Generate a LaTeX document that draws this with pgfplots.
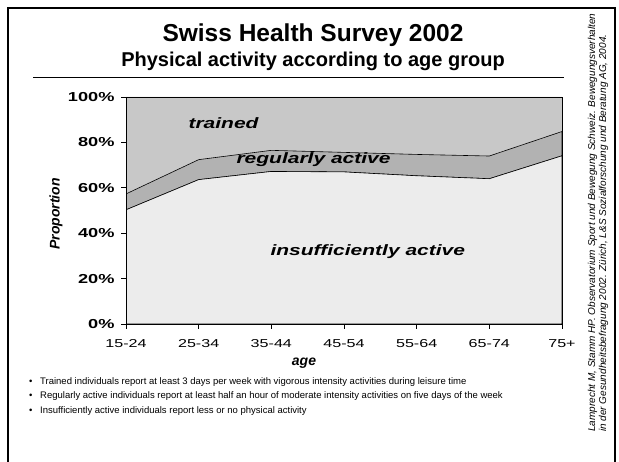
\documentclass[border=0pt]{standalone}
\usepackage{fontspec}
\setmainfont{Liberation Sans}
\newfontfamily\chartfont[FakeStretch=1.4]{Liberation Sans}
\usepackage{pgfplots}
\pgfplotsset{compat=1.18}

\definecolor{trainedgray}{RGB}{200,200,200}
\definecolor{regulargray}{RGB}{178,178,178}
\definecolor{insuffgray}{RGB}{236,236,236}

\begin{document}
\begin{tikzpicture}[x=1pt,y=1pt]
\useasboundingbox (0,0) rectangle (619,461);
% frame and header
\draw[line width=2.6pt] (8,-10) -- (8,453) -- (615,453) -- (615,-10);
\node[anchor=base, font=\bfseries\fontsize{24.5}{27}\selectfont] at (313,419) {Swiss Health Survey 2002};
\node[anchor=base, font=\bfseries\fontsize{20}{23}\selectfont] at (313,394) {Physical activity according to age group};
\draw[line width=0.8pt] (33,384) -- (564,384);

\begin{axis}[
    at={(126pt,137pt)}, anchor=south west,
    scale only axis,
    width=436pt, height=227pt,
    xmin=0, xmax=6, ymin=0, ymax=100,
    xtick={0,...,6},
    xticklabels={15-24,25-34,35-44,45-54,55-64,65-74,75+},
    ytick={0,20,...,100},
    yticklabels={0\%,20\%,40\%,60\%,80\%,100\%},
    tick align=outside, tick pos=left,
    major tick length=5pt,
    tick style={black, line width=0.6pt},
    axis line style={line width=0.7pt},
    xticklabel style={font=\chartfont\fontsize{11.5}{13}\selectfont, yshift=-7pt},
    yticklabel style={font=\chartfont\bfseries\fontsize{13}{15}\selectfont, xshift=-3pt},
    stack plots=y,
    axis on top,
]
% insufficiently active
\addplot[fill=insuffgray, draw=black, line width=0.6pt] coordinates {
    (0,50.3) (1,63.6) (2,67.2) (3,67.0) (4,65.3) (5,64.0) (6,74.1)
} \closedcycle;
% regularly active
\addplot[fill=regulargray, draw=black, line width=0.6pt] coordinates {
    (0,7.0) (1,8.8) (2,9.3) (3,8.6) (4,9.4) (5,10.0) (6,10.7)
} \closedcycle;
% trained
\addplot[fill=trainedgray, draw=none] coordinates {
    (0,42.7) (1,27.6) (2,23.5) (3,24.4) (4,25.3) (5,26.0) (6,15.2)
} \closedcycle;
\end{axis}

% labels inside the chart
\node[anchor=base west, font=\chartfont\bfseries\itshape\fontsize{15}{17}\selectfont] at (185,332) {trained};
\node[anchor=base west, font=\chartfont\bfseries\itshape\fontsize{15}{17}\selectfont] at (233,297) {regularly active};
\node[anchor=base west, font=\chartfont\bfseries\itshape\fontsize{15}{17}\selectfont] at (267,205) {insufficiently active};
\node[anchor=base, font=\bfseries\itshape\fontsize{14}{16}\selectfont] at (304,95) {age};
\node[rotate=90, font=\bfseries\itshape\fontsize{14}{16}\selectfont] at (56,247) {Proportion};

% notes
\begin{scope}[every node/.style={anchor=base west, font=\fontsize{9.5}{11}\selectfont, inner sep=0pt}]
\node at (29,77) {\textbullet};
\node at (40,77) {Trained individuals report at least 3 days per week with vigorous intensity activities during leisure time};
\node at (29,62) {\textbullet};
\node at (40,62) {Regularly active individuals report at least half an hour of moderate intensity activities on five days of the week};
\node at (29,47) {\textbullet};
\node at (40,47) {Insufficiently active individuals report less or no physical activity};
\end{scope}

% source
\node[rotate=90, anchor=base west, inner sep=0pt, font=\itshape\fontsize{10}{11}\selectfont] at (595,29) {Lamprecht M, Stamm HP. Observatorium Sport und Bewegung Schweiz. Bewegungsverhalten};
\node[rotate=90, anchor=base west, inner sep=0pt, font=\itshape\fontsize{10}{11}\selectfont] at (606,29) {in der Gesundheitsbefragung 2002. Zürich, L\&S Sozialforschung und Beratung AG, 2004.};
\end{tikzpicture}
\end{document}
